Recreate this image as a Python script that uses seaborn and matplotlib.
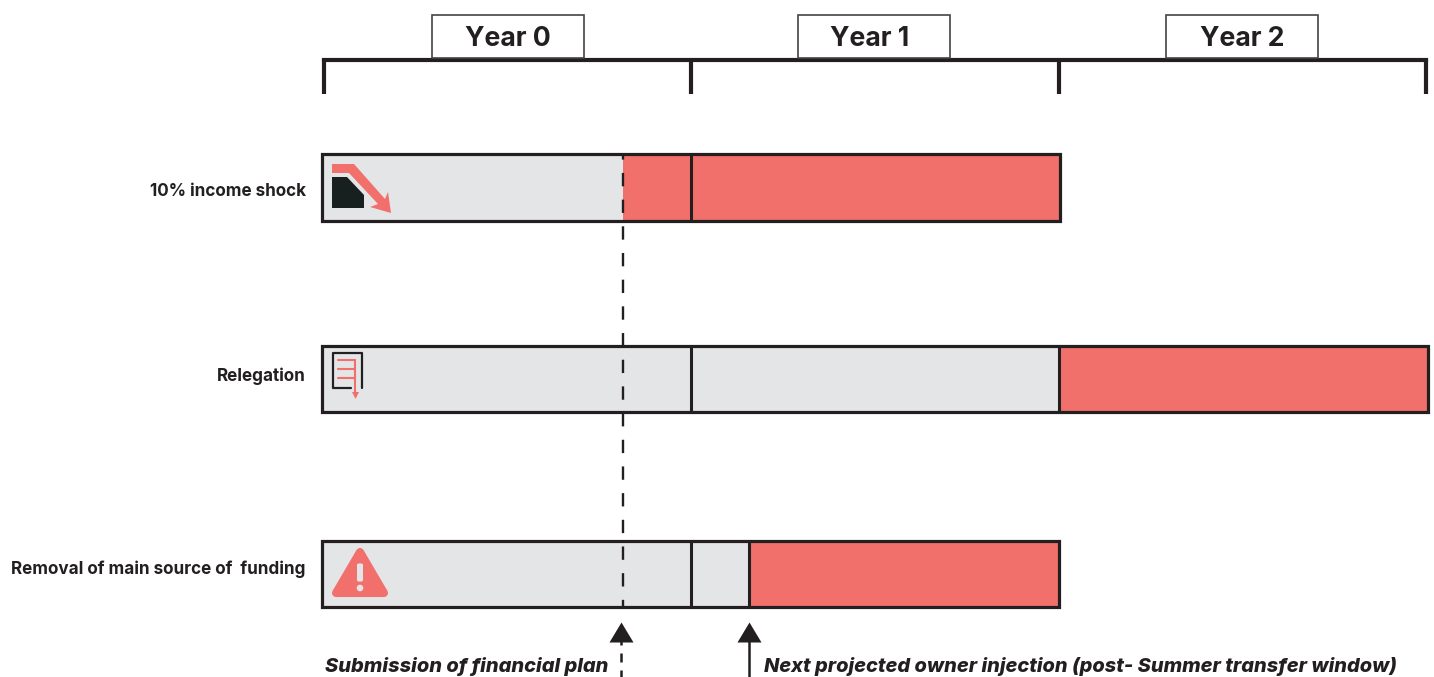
import pandas as pd
import seaborn as sns
import matplotlib.pyplot as plt
from matplotlib.patches import Polygon, Rectangle, FancyBboxPatch, Circle

# Scenarios and timing, in years from the start of Year 0
scenarios = ['10% income shock', 'Relegation', 'Removal of main source of  funding']
red_start = [0.815, 2.0, 1.158]
bar_end = [2.005, 3.005, 2.0]
extra_divider = [None, None, 1.158]
year_labels = ['Year 0', 'Year 1', 'Year 2']
year_edges = [0, 1, 2, 3]
plan_year = 0.815
plan_arrow_year = 0.809
injection_year = 1.158
plan_text = 'Submission of financial plan'
injection_text = 'Next projected owner injection (post- Summer transfer window)'

# layout, pixels of the reference
W, H = 1434, 677
row_y = [187.5, 379, 574]
label_y = [191.5, 376.5, 569]
year_text_nudge = [0, -5, 0]
year_box_nudge = [0, -1, 0]
X0, YEAR_PX = 324, 367.3
DARK, GREY, RED = '#231F20', '#E4E5E7', '#F2706B'

sns.set_theme(style='white')
plt.rcParams['font.family'] = ['Inter', 'DejaVu Sans']

df = pd.DataFrame({'scenario': scenarios, 'y': row_y, 'red_start': red_start, 'bar_end': bar_end})

fig = plt.figure(figsize=(W / 100, H / 100), dpi=100)
ax = fig.add_axes([0, 0, 1, 1])
ax.set_facecolor('none')

# red bar to the end, grey over it up to the start of the red part
bar_w = 66.5 / 191.5
sns.barplot(data=df, x='bar_end', y='y', orient='y', native_scale=True, color=RED,
            saturation=1, width=bar_w, ax=ax, linewidth=0)
sns.barplot(data=df, x='red_start', y='y', orient='y', native_scale=True, color=GREY,
            saturation=1, width=bar_w, ax=ax, linewidth=0)
sns.barplot(data=df, x='bar_end', y='y', orient='y', native_scale=True, fill=False,
            edgecolor=DARK, width=bar_w, ax=ax, linewidth=2.3)

# the bars sit 2px left of the bracket
shift = 2 / YEAR_PX
for p in ax.patches:
    p.set_x(p.get_x() - shift)
    p.set_width(p.get_width() + shift)

ax.set_xlim(-X0 / YEAR_PX, (W - X0) / YEAR_PX)
ax.set_ylim(H, 0)
ax.set_xlabel('')
ax.set_ylabel('')
ax.set_xticks([])
ax.set_yticks([])
sns.despine(ax=ax, left=True, bottom=True)

half = 33
for i, y in enumerate(row_y):
    for e in year_edges[1:]:
        if e < bar_end[i] - 0.01:
            ax.vlines(e, y - half, y + half, color=DARK, lw=2.2)
    if extra_divider[i] is not None:
        ax.vlines(extra_divider[i], y - half, y + half, color=DARK, lw=2.2)
    ax.text(-0.05, label_y[i], scenarios[i], ha='right', va='center',
            fontsize=12.3, fontweight='bold', color=DARK)

# dashed line for the financial plan, down through the rows
ax.vlines(plan_year, 155, 606, color=DARK, lw=1.7, linestyles=[(3.7, (5.65, 5.65))])

# year brackets on top
ax.hlines(59.5, year_edges[0], year_edges[-1], color=DARK, lw=3, capstyle='projecting')
ax.vlines(year_edges, 59, 94, color=DARK, lw=3)
for i, lab in enumerate(year_labels):
    mid = i + 0.5
    ax.text(mid + year_text_nudge[i] / YEAR_PX, 39, lab, ha='center', va='center', fontsize=19.2,
            fontweight='bold', color=DARK, zorder=4)
    ax.add_patch(Rectangle((mid + (year_box_nudge[i] - 76) / YEAR_PX, 15), 152 / YEAR_PX, 43,
                           fc='white', ec='#444444', lw=1.2, zorder=3))

# arrows under the bars
head = [(-12, -10), (12, -10), (0, 10)]
ax.vlines(plan_arrow_year, 640, H, color=DARK, lw=1.8, linestyles=[(1.6, (3.6, 3.2))])
ax.vlines(injection_year, 640, H, color=DARK, lw=1.8)
for yr in [plan_arrow_year, injection_year]:
    ax.plot([yr], [632], marker=head, ms=17.3, color=DARK, mew=0, clip_on=False)
ax.text(plan_year - 0.041, 666, plan_text, ha='right', va='center', fontsize=14.45, fontweight='heavy',
        fontstyle='italic', color=DARK)
ax.text(injection_year + 0.04, 666, injection_text, ha='left', va='center', fontsize=14.4,
        fontweight='heavy', fontstyle='italic', color=DARK)

# icons, drawn on a pixel overlay
ic = fig.add_axes([0, 0, 1, 1])
ic.set_xlim(0, W)
ic.set_ylim(H, 0)
ic.axis('off')
ic.patch.set_alpha(0)

# income shock
ic.add_patch(Polygon([(332, 177), (347, 177), (364, 195), (364, 208), (332, 208)], fc='#17201F', ec='none'))
ic.add_patch(Polygon([(332, 164), (354, 164), (385, 199), (388, 192), (391, 213), (370, 207), (378, 204),
                      (349, 173), (332, 173)], fc=RED, ec='none'))
# relegation
ic.plot([351, 333, 333, 362, 362], [388, 388, 353, 353, 388], color=DARK, lw=1.6)
for y in [360, 369, 378]:
    ic.plot([338, 355], [y, y], color=RED, lw=1.5)
ic.plot([355, 355], [360, 393], color=RED, lw=1.5)
ic.add_patch(Polygon([(352, 392), (359, 392), (355.5, 399)], fc=RED, ec='none'))
# warning
ic.add_patch(Polygon([(360, 552), (336, 593), (384, 593)], fc=RED, ec=RED, lw=5.8, joinstyle='round'))
ic.add_patch(FancyBboxPatch((358.5, 565), 3, 15, boxstyle='round,pad=1.5', fc=GREY, ec='none'))
ic.add_patch(Circle((360, 588), 3.3, fc=GREY, ec='none'))

fig.savefig('out.png', dpi=100)
